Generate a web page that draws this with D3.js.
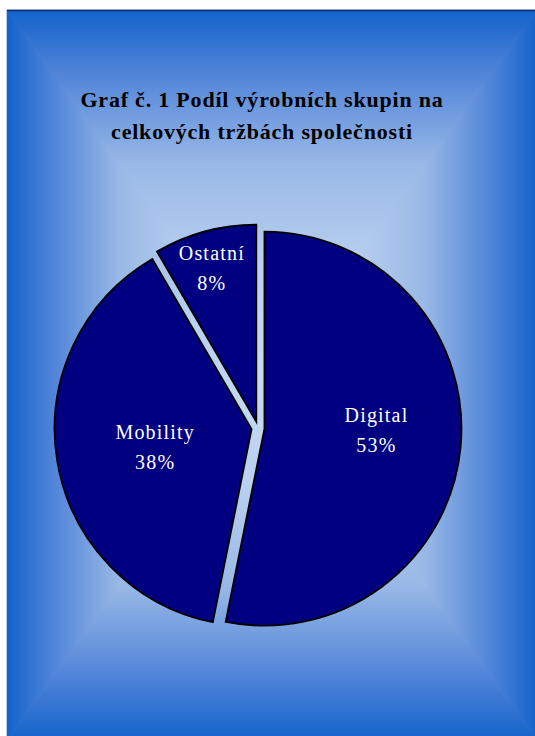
<!DOCTYPE html>
<html>
<head>
<meta charset="utf-8">
<script src="https://cdn.jsdelivr.net/npm/d3@7"></script>
<style>
  body { margin: 0; background: #fff; }
  svg { display: block; }
</style>
</head>
<body>
<div id="chart"></div>
<script>
// data
var categories = ["Digital", "Mobility", "Ostatní"];
var shares = [53.1, 38.4, 8.4];
var titleLines = ["Graf č. 1 Podíl výrobních skupin na", "celkových tržbách společnosti"];

// layout
var svgWidth = 535;
var svgHeight = 736;
var panel = {x: 7, y: 10, w: 530, h: 730};
var center = {x: 258, y: 428};
var radius = 197;
var explode = 6.5;
var labelDist = [112, 98, 160];
var labelTurn = [-5, -1, -1]; // degrees

var svg = d3.select("#chart")
    .append("svg")
    .attr("width", svgWidth)
    .attr("height", svgHeight);

var defs = svg.append("defs");

// "from center" rectangular gradient made of four triangles
var gcx = panel.x + panel.w / 2;
var gcy = panel.y + panel.h / 2;
var x0 = panel.x, x1 = panel.x + panel.w, y0 = panel.y, y1 = panel.y + panel.h;
var stops = [
    [0, "#1363cb"], [0.18, "#5285d9"], [0.42, "#98b8e6"],
    [0.7, "#b9d0ef"], [1, "#c6dbf3"]
];
var sides = [
    {id: "gTop", pts: [[x0, y0], [x1, y0], [gcx, gcy]], from: [gcx, y0], to: [gcx, gcy]},
    {id: "gBottom", pts: [[x0, y1], [x1, y1], [gcx, gcy]], from: [gcx, y1], to: [gcx, gcy]},
    {id: "gLeft", pts: [[x0, y0], [x0, y1], [gcx, gcy]], from: [x0, gcy], to: [gcx, gcy]},
    {id: "gRight", pts: [[x1, y0], [x1, y1], [gcx, gcy]], from: [x1, gcy], to: [gcx, gcy]}
];
sides.forEach(function(s) {
    var lg = defs.append("linearGradient")
        .attr("id", s.id)
        .attr("gradientUnits", "userSpaceOnUse")
        .attr("x1", s.from[0]).attr("y1", s.from[1])
        .attr("x2", s.to[0]).attr("y2", s.to[1]);
    stops.forEach(function(st) {
        lg.append("stop").attr("offset", st[0]).attr("stop-color", st[1]);
    });
});

svg.append("rect")
    .attr("x", panel.x).attr("y", panel.y)
    .attr("width", panel.w).attr("height", panel.h)
    .attr("fill", "#7ea6e0");

svg.selectAll("polygon.bg")
    .data(sides)
    .enter()
    .append("polygon")
    .attr("class", "bg")
    .attr("points", d => d.pts.map(p => p.join(",")).join(" "))
    .attr("fill", d => "url(#" + d.id + ")")
    .attr("stroke", d => "url(#" + d.id + ")")
    .attr("stroke-width", 0.6);

// top border
svg.append("line")
    .attr("x1", panel.x).attr("x2", svgWidth)
    .attr("y1", panel.y + 0.5).attr("y2", panel.y + 0.5)
    .attr("stroke", "#0c2f6e")
    .attr("stroke-width", 1.5);

// title
svg.append("g")
    .selectAll("text")
    .data(titleLines)
    .enter()
    .append("text")
    .attr("x", 262)
    .attr("y", (d, i) => 107 + i * 32)
    .attr("text-anchor", "middle")
    .attr("font-family", "'Liberation Serif', 'Times New Roman', serif")
    .attr("font-weight", "bold")
    .attr("font-size", "22px")
    .attr("letter-spacing", "0.8px")
    .attr("fill", "#000")
    .text(d => d);

// pie
var pie = d3.pie().sort(null).value(d => d);
var arcs = pie(shares);
var arc = d3.arc().innerRadius(0).outerRadius(radius);

function offset(a, dist) {
    return [Math.sin(a) * dist, -Math.cos(a) * dist];
}
function midAngle(d) {
    return (d.startAngle + d.endAngle) / 2;
}

var pieGroup = svg.append("g")
    .attr("transform", `translate(${center.x}, ${center.y})`);

var slices = pieGroup.selectAll("g.slice")
    .data(arcs)
    .enter()
    .append("g")
    .attr("class", "slice")
    .attr("transform", d => {
        var o = offset(midAngle(d), explode);
        return `translate(${o[0]}, ${o[1]})`;
    });

slices.append("path")
    .attr("d", arc)
    .attr("fill", "#000080")
    .attr("stroke", "#000")
    .attr("stroke-width", 1.8)
    .attr("stroke-linejoin", "miter");

var labels = slices.append("text")
    .attr("transform", (d, i) => {
        var o = offset(midAngle(d) + labelTurn[i] * Math.PI / 180, labelDist[i]);
        return `translate(${o[0]}, ${o[1]})`;
    })
    .attr("text-anchor", "middle")
    .attr("font-family", "'Liberation Serif', 'Times New Roman', serif")
    .attr("font-size", "20px")
    .attr("letter-spacing", "1.2px")
    .attr("fill", "#fff");

labels.append("tspan")
    .attr("x", 0)
    .attr("y", -8)
    .text((d, i) => categories[i]);

labels.append("tspan")
    .attr("x", 0)
    .attr("y", 22)
    .text(d => Math.round(d.data) + "%");
</script>
</body>
</html>
